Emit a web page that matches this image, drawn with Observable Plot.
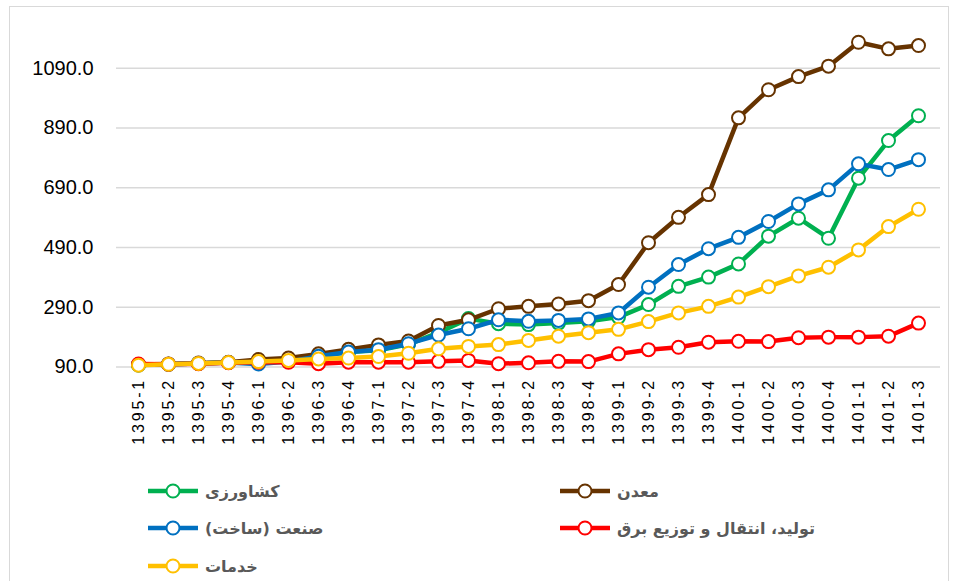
<!DOCTYPE html>
<html><head><meta charset="utf-8">
<script src="https://cdn.jsdelivr.net/npm/d3@7"></script>
<script src="https://cdn.jsdelivr.net/npm/@observablehq/plot@0.6"></script>
<style>
body{margin:0;background:#fff;}
#wrap{position:relative;width:958px;height:581px;overflow:hidden;font-family:"Liberation Sans",Arial,sans-serif;}
#frame{position:absolute;left:9px;top:6px;width:940px;height:600px;border:1px solid #d9d9d9;box-sizing:border-box;}
#chart{position:absolute;left:0;top:0;}
.leg{position:absolute;display:flex;align-items:center;height:26px;}
.leg span{font-family:"DejaVu Sans",sans-serif;font-weight:bold;font-size:16px;color:#595959;direction:rtl;margin-left:7px;white-space:nowrap;}
[aria-label="x-axis tick label"] text{letter-spacing:2.8px;}
</style></head>
<body><div id="wrap"><div id="frame"></div><div id="chart"></div><div id="legend"></div></div>
<script>
const periods = ["1395-1","1395-2","1395-3","1395-4","1396-1","1396-2","1396-3","1396-4","1397-1","1397-2","1397-3","1397-4","1398-1","1398-2","1398-3","1398-4","1399-1","1399-2","1399-3","1399-4","1400-1","1400-2","1400-3","1400-4","1401-1","1401-2","1401-3"];
const agriculture = [97,99,102,105,103,110,126,140,146,166,205,252,235,232,237,243,257,299,360,391,435,528,588,521,722,848,931];
const mining = [98,100,103,106,115,120,134,149,164,177,229,248,285,293,301,312,366,506,591,667,924,1018,1062,1097,1177,1155,1166];
const industry = [97,99,102,105,100,108,126,140,148,168,197,218,248,243,246,251,271,357,433,486,524,577,636,683,770,751,784];
const electricity = [100,99,101,104,106,106,101,106,106,106,109,112,101,104,109,108,134,148,156,173,176,175,188,190,190,193,237];
const services = [96,99,102,105,108,112,117,120,125,136,151,159,165,179,193,205,216,242,271,293,324,359,395,424,482,560,618];
const yTicks = [90,290,490,690,890,1090];

const seriesNames = ["کشاورزی","معدن","صنعت (ساخت)","تولید، انتقال و توزیع برق","خدمات"];
const seriesValues = [agriculture, mining, industry, electricity, services];
const seriesColors = ["#00B050","#663300","#0070C0","#FF0000","#FFC000"];

const rows = seriesNames.map((name, s) => periods.map((p, i) => ({period: p, value: seriesValues[s][i], series: name})));

const marks = [
  Plot.gridY(yTicks, {stroke: "#d9d9d9", strokeOpacity: 1, strokeWidth: 1.5}),
  Plot.axisY(yTicks, {tickSize: 0, tickPadding: 23, tickFormat: d => d.toFixed(1), fontSize: 20, fill: "#000"}),
  Plot.axisX({tickSize: 0, tickRotate: -90, tickPadding: 11, fontSize: 16, fill: "#000", label: null})
];
rows.forEach((data, s) => {
  marks.push(Plot.line(data, {x: "period", y: "value", stroke: seriesColors[s], strokeWidth: 4.5}));
  marks.push(Plot.dot(data, {x: "period", y: "value", r: 6.5, fill: "white", stroke: seriesColors[s], strokeWidth: 2}));
});

const chart = Plot.plot({
  width: 958,
  height: 470,
  marginLeft: 116,
  marginRight: 18,
  marginTop: 8,
  marginBottom: 103.5,
  style: {fontFamily: "'Liberation Sans', Arial, sans-serif", background: "transparent", overflow: "visible"},
  x: {type: "point", domain: periods, padding: 0.5, label: null, axis: null},
  y: {domain: [90, 1290], label: null, axis: null},
  marks
});
document.getElementById("chart").appendChild(chart);

const legendPos = [[148, 491], [560, 491], [148, 528], [560, 528], [148, 566]];
const legend = document.getElementById("legend");
seriesNames.forEach((name, s) => {
  const d = document.createElement("div");
  d.className = "leg";
  d.style.left = legendPos[s][0] + "px";
  d.style.top = (legendPos[s][1] - 13) + "px";
  d.innerHTML = `<svg width="50" height="20"><line x1="0" x2="50" y1="10" y2="10" stroke="${seriesColors[s]}" stroke-width="4.5"/><circle cx="25" cy="10" r="6.5" fill="white" stroke="${seriesColors[s]}" stroke-width="2"/></svg><span>${name}</span>`;
  legend.appendChild(d);
});
</script>
</body></html>
